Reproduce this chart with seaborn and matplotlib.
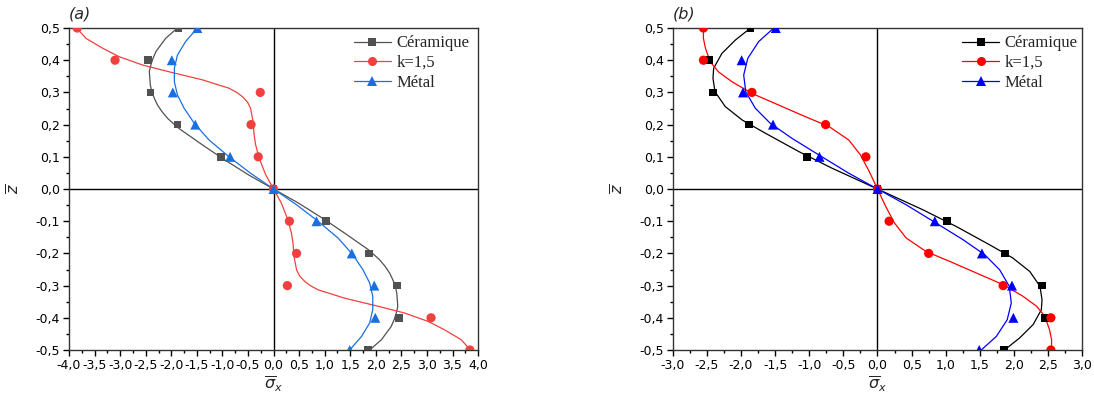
import matplotlib
matplotlib.use("Agg")
import matplotlib.pyplot as plt
from matplotlib.lines import Line2D
from matplotlib.ticker import MultipleLocator, FuncFormatter
import seaborn as sns

# ---------------------------------------------------------------- data
# through-thickness coordinate of the computed points
z_pts = [0.5, 0.4, 0.3, 0.2, 0.1, 0.0, -0.1, -0.2, -0.3, -0.4, -0.5]

# normalised axial stress at the computed points
ceram_pts = [-1.86, -2.46, -2.41, -1.88, -1.03, 0.0, 1.02, 1.87, 2.41, 2.45, 1.85]
metal_pts = [-1.49, -1.99, -1.97, -1.53, -0.85, 0.0, 0.84, 1.53, 1.97, 1.99, 1.49]
k15_pts_a = [-3.84, -3.10, -0.26, -0.44, -0.30, 0.0, 0.31, 0.45, 0.27, 3.08, 3.84]
k15_pts_b = [-2.55, -2.55, -1.84, -0.76, -0.17, 0.0, 0.17, 0.75, 1.84, 2.54, 2.54]

# reference solution curves, panel (a)
ceram_z_a = [0.5, 0.468, 0.427, 0.405, 0.385, 0.365, 0.344, 0.323, 0.302, 0.281, 0.261, 0.240, 0.219,
             0.188, 0.137, 0.095, 0.043, 0.0,
             -0.043, -0.095, -0.137, -0.188, -0.219, -0.240, -0.261, -0.281, -0.302, -0.323, -0.344,
             -0.365, -0.385, -0.405, -0.427, -0.468, -0.5]
ceram_s_a = [-1.88, -2.11, -2.30, -2.36, -2.40, -2.43, -2.42, -2.41, -2.38, -2.33, -2.27, -2.18, -2.07,
             -1.85, -1.39, -1.00, -0.48, 0.0,
             0.48, 1.00, 1.39, 1.85, 2.07, 2.18, 2.27, 2.33, 2.38, 2.41, 2.42,
             2.43, 2.40, 2.36, 2.30, 2.11, 1.88]
metal_z_a = [0.5, 0.458, 0.416, 0.375, 0.333, 0.292, 0.251, 0.204, 0.152, 0.100, 0.049, 0.0,
             -0.049, -0.100, -0.152, -0.204, -0.251, -0.292, -0.333, -0.375, -0.416, -0.458, -0.5]
metal_s_a = [-1.49, -1.72, -1.88, -1.94, -1.94, -1.88, -1.75, -1.55, -1.26, -0.87, -0.45, 0.0,
             0.45, 0.87, 1.26, 1.55, 1.75, 1.88, 1.94, 1.94, 1.88, 1.72, 1.49]
k15_z_a = [0.5, 0.468, 0.437, 0.411, 0.385, 0.364, 0.339, 0.313, 0.300, 0.287, 0.270, 0.251, 0.209,
           0.168, 0.137, 0.095, 0.043, 0.0, -0.043, -0.095, -0.137, -0.168, -0.209, -0.251, -0.270,
           -0.287, -0.300, -0.313, -0.339, -0.364, -0.385, -0.411, -0.437, -0.468, -0.5]
k15_s_a = [-3.85, -3.67, -3.34, -3.02, -2.56, -2.04, -1.39, -0.87, -0.72, -0.61, -0.51, -0.45, -0.40,
           -0.38, -0.35, -0.28, -0.15, 0.0, 0.15, 0.28, 0.35, 0.38, 0.40, 0.45, 0.51,
           0.61, 0.72, 0.87, 1.39, 2.04, 2.56, 3.02, 3.34, 3.67, 3.85]

# reference solution curves, panel (b)
ceram_z_b = [0.5, 0.463, 0.421, 0.375, 0.344, 0.302, 0.256, 0.214, 0.173, 0.116, 0.064, 0.0,
             -0.064, -0.116, -0.173, -0.214, -0.256, -0.302, -0.344, -0.375, -0.421, -0.463, -0.5]
ceram_s_b = [-1.86, -2.08, -2.28, -2.40, -2.41, -2.38, -2.23, -1.98, -1.64, -1.15, -0.66, 0.0,
             0.66, 1.15, 1.64, 1.98, 2.23, 2.38, 2.41, 2.40, 2.28, 2.08, 1.86]
metal_z_b = [0.5, 0.458, 0.406, 0.354, 0.302, 0.251, 0.204, 0.157, 0.106, 0.049, 0.0,
             -0.049, -0.106, -0.157, -0.204, -0.251, -0.302, -0.354, -0.406, -0.458, -0.5]
metal_s_b = [-1.52, -1.74, -1.90, -1.96, -1.93, -1.79, -1.57, -1.25, -0.86, -0.42, 0.0,
             0.42, 0.86, 1.25, 1.57, 1.79, 1.93, 1.96, 1.90, 1.74, 1.52]
k15_z_b = [0.5, 0.468, 0.437, 0.395, 0.364, 0.333, 0.297, 0.261, 0.225, 0.194, 0.152, 0.106, 0.054, 0.0,
           -0.054, -0.106, -0.152, -0.194, -0.225, -0.261, -0.297, -0.333, -0.364, -0.395, -0.437,
           -0.468, -0.5]
k15_s_b = [-2.55, -2.55, -2.52, -2.45, -2.33, -2.13, -1.84, -1.45, -1.06, -0.71, -0.42, -0.25, -0.12, 0.0,
           0.12, 0.25, 0.42, 0.71, 1.06, 1.45, 1.84, 2.13, 2.33, 2.45, 2.52,
           2.55, 2.55]

series_labels = ["Céramique", "k=1,5", "Métal"]

# ---------------------------------------------------------------- style
sns.set_theme(style="ticks")
plt.rcParams["font.family"] = ["DejaVu Sans"]
plt.rcParams["mathtext.fontset"] = "dejavusans"

fig = plt.figure(figsize=(10.94, 4.05), dpi=100)
ax_a = fig.add_axes([0.0631, 0.1358, 0.3739, 0.795])
ax_b = fig.add_axes([0.6149, 0.1358, 0.3744, 0.795])


def comma_fmt(v, _pos):
    if abs(v) < 1e-9:
        v = 0.0
    return f"{v:.1f}".replace(".", ",")


def draw_panel(ax, tag, xlim, colors, curves, points, leg_x):
    markers = ["s", "o", "^"]
    sizes = [30, 44, 52]
    # reference curves
    for (zc, sc), col in zip(curves, colors):
        sns.lineplot(x=sc, y=zc, sort=False, estimator=None, color=col,
                     lw=0.9, ax=ax, legend=False, zorder=2)
    # computed points
    for sp, col, mk, sz in zip(points, colors, markers, sizes):
        sns.scatterplot(x=sp, y=z_pts, marker=mk, s=sz, color=col,
                        edgecolor="none", linewidth=0, ax=ax, legend=False, zorder=3)

    ax.axhline(0, color="black", lw=1.0, zorder=1)
    ax.axvline(0, color="black", lw=1.0, zorder=1)

    ax.set_xlim(*xlim)
    ax.set_ylim(-0.5, 0.5)
    ax.xaxis.set_major_locator(MultipleLocator(0.5))
    ax.xaxis.set_minor_locator(MultipleLocator(0.25))
    ax.yaxis.set_major_locator(MultipleLocator(0.1))
    ax.yaxis.set_minor_locator(MultipleLocator(0.05))
    ax.xaxis.set_major_formatter(FuncFormatter(comma_fmt))
    ax.yaxis.set_major_formatter(FuncFormatter(comma_fmt))
    ax.tick_params(which="major", direction="out", length=4.5, width=1.0,
                   labelsize=9, pad=2, colors="black")
    ax.tick_params(which="minor", direction="out", length=2.5, width=1.0, colors="black")
    ax.tick_params(top=False, right=False, which="both")
    for sp in ax.spines.values():
        sp.set_visible(True)
        sp.set_color("#333333")
        sp.set_linewidth(1.0)

    ax.set_xlabel(r"$\overline{\sigma}_x$", fontsize=11.5, labelpad=2)
    ax.set_ylabel(r"$\overline{z}$", fontsize=11.5, labelpad=9)
    ax.text(0.0, 1.02, tag, transform=ax.transAxes, fontsize=11.5,
            style="italic", ha="left", va="bottom")

    handles = [Line2D([], [], color=c, lw=0.9, marker=m, markersize=ms,
                      markeredgewidth=0)
               for c, m, ms in zip(colors, markers, [5.5, 6.5, 7])]
    ax.legend(handles, series_labels, loc="upper left", bbox_to_anchor=(leg_x, 0.977),
              frameon=False, borderpad=0, borderaxespad=0, handlelength=2.2,
              handletextpad=0.35, labelspacing=0.22,
              prop={"family": "Liberation Serif", "size": 12})


draw_panel(ax_a, "(a)", (-4, 4), ["#515151", "#F14040", "#1A6FDF"],
           [(ceram_z_a, ceram_s_a), (k15_z_a, k15_s_a), (metal_z_a, metal_s_a)],
           [ceram_pts, k15_pts_a, metal_pts], 0.697)
draw_panel(ax_b, "(b)", (-3, 3), ["#000000", "#FF0000", "#0000FF"],
           [(ceram_z_b, ceram_s_b), (k15_z_b, k15_s_b), (metal_z_b, metal_s_b)],
           [ceram_pts, k15_pts_b, metal_pts], 0.707)

fig.savefig("out.png", dpi=100)
